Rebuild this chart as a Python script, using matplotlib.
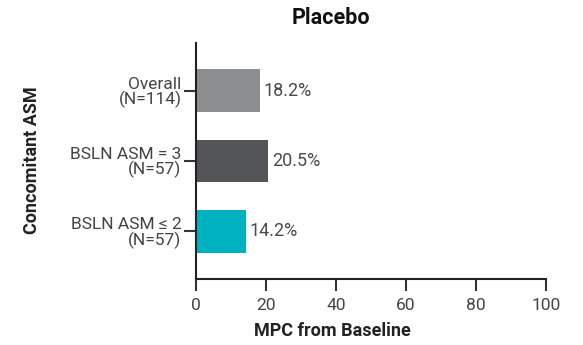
import numpy as np
import matplotlib.pyplot as plt

plt.rcParams['font.family'] = ['Roboto', 'DejaVu Sans']

categories = ['BSLN ASM \u2264 2\n(N=57)', 'BSLN ASM = 3\n(N=57)', 'Overall\n(N=114)']
values = [14.2, 20.5, 18.2]
bar_colors = ['#00b2c0', '#545559', '#8c8e8f']
xticks = [0, 20, 40, 60, 80, 100]

fig = plt.figure(figsize=(5.83, 3.45), dpi=100)
ax = fig.add_axes([196 / 583, 1 - 279 / 345, 350 / 583, 236 / 345])

y = np.arange(len(categories))
ax.barh(y, values, height=0.61, color=bar_colors)
for yi, v in zip(y, values):
    ax.text(v + 1.2, yi, f'{v}%', va='center', ha='left', fontsize=13, color='#4a4a4a')

ax.set_xlim(0, 100)
ax.set_ylim(-0.68, 2.68)
ax.set_yticks(y)
ax.set_yticklabels(categories, fontsize=12.5, color='#444444', ha='right', linespacing=0.95)
ax.set_xticks(xticks)
ax.set_xticklabels([str(t) for t in xticks], fontsize=12.5, color='#444444')
ax.tick_params(axis='both', length=8.5, width=1.5, color='#333333')
ax.tick_params(axis='x', pad=5)
ax.tick_params(axis='y', pad=2)
for s in ['top', 'right']:
    ax.spines[s].set_visible(False)
for s in ['left', 'bottom']:
    ax.spines[s].set_linewidth(1.5)
    ax.spines[s].set_color('#222222')

fig.text(331 / 583, 1 - 18 / 345, 'Placebo', ha='center', va='center', fontsize=15.5, fontweight='bold', color='#111111')
fig.text(332 / 583, 1 - 331 / 345, 'MPC from Baseline', ha='center', va='center', fontsize=13, fontweight='bold', color='#222222')
fig.text(32 / 583, 1 - 160 / 345, 'Concomitant ASM', ha='center', va='center', rotation=90, fontsize=13, fontweight='bold', color='#222222')

fig.savefig('out.png', dpi=100)
